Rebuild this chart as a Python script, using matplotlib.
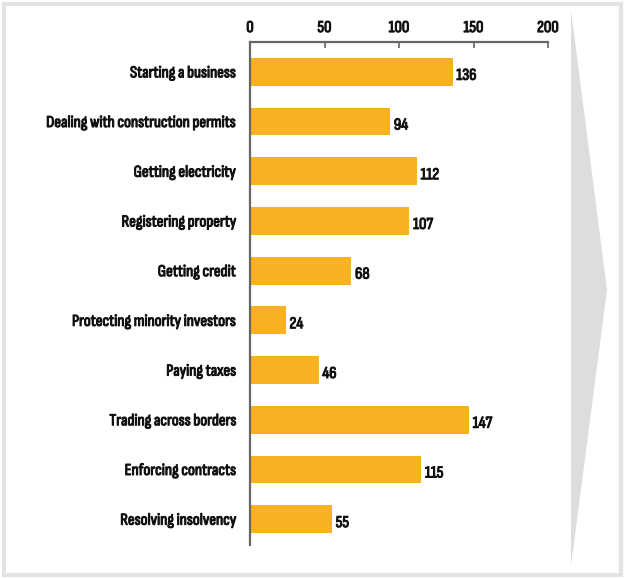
import matplotlib.pyplot as plt
import matplotlib.patheffects as pe
from matplotlib.patches import Polygon, Rectangle

categories = [
    "Starting a business",
    "Dealing with construction permits",
    "Getting electricity",
    "Registering property",
    "Getting credit",
    "Protecting minority investors",
    "Paying taxes",
    "Trading across borders",
    "Enforcing contracts",
    "Resolving insolvency",
]
values = [136, 94, 112, 107, 68, 24, 46, 147, 115, 55]
ticks = [0, 50, 100, 150, 200]

plt.rcParams['font.family'] = ['Sofia Sans Condensed', 'Liberation Sans', 'DejaVu Sans']
bold = [pe.withStroke(linewidth=0.75, foreground='#111111')]

W, H = 625, 579
fig = plt.figure(figsize=(W / 100, H / 100), dpi=100)
fig.patch.set_facecolor('white')

# light grey frame and the grey arrow on the right
fig.patches.append(Rectangle((4 / W, 4 / H), 617 / W, 571 / H, transform=fig.transFigure,
                             fill=False, edgecolor='#e3e3e3', linewidth=3))
fig.patches.append(Polygon([(571 / W, 1 - 10 / H), (607 / W, 1 - 290 / H), (571 / W, 1 - 566 / H)],
                           closed=True, transform=fig.transFigure,
                           facecolor='#dddddd', edgecolor='none'))

ax = fig.add_axes([250 / W, 1 - 545 / H, 298 / W, 503 / H])
y = list(range(len(categories)))
ax.barh(y, values, height=0.56, color='#f8b123')
for yi, v in zip(y, values):
    ax.text(v + 2.5, yi + 0.08, str(v), va='center', ha='left', fontsize=12,
            color='#111111', path_effects=bold)

ax.set_xlim(0, 200)
ax.set_ylim(9.52, -0.6)
ax.xaxis.tick_top()
ax.set_yticks(y)
ax.set_yticklabels(categories, fontsize=12, color='#111111', path_effects=bold)
ax.set_xticks(ticks)
ax.set_xticklabels([str(t) for t in ticks], fontsize=12, color='#111111', path_effects=bold)
ax.tick_params(axis='x', direction='in', length=4, width=1.2, color='#666666', pad=5)
ax.tick_params(axis='y', length=0, pad=10)
for s in ['right', 'bottom']:
    ax.spines[s].set_visible(False)
for s in ['left', 'top']:
    ax.spines[s].set_color('#666666')
    ax.spines[s].set_linewidth(1.6)

fig.savefig('out.png', dpi=100)
